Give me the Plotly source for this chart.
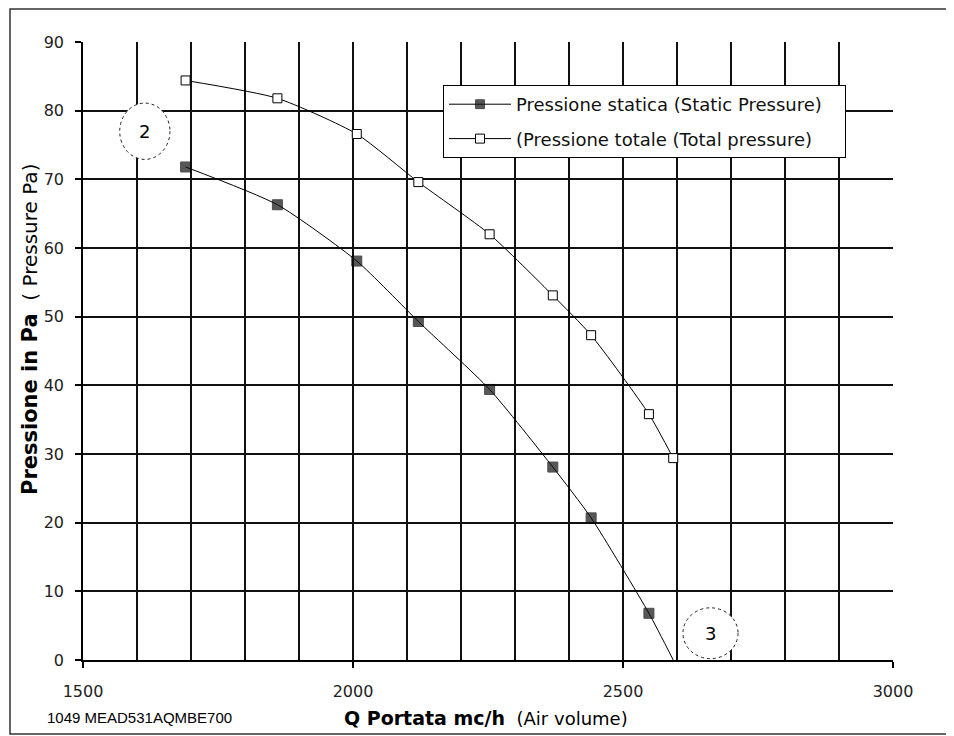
import plotly.graph_objects as go

# Data
flow_static = [1690, 1860, 2007, 2121, 2253, 2370, 2441, 2548, 2593]
p_static = [71.8, 66.3, 58.1, 49.3, 39.4, 28.1, 20.7, 6.8, 0.0]
static_marker_sizes = [10, 10, 10, 10, 10, 10, 10, 10, 0]

flow_total = [1690, 1860, 2007, 2121, 2253, 2370, 2441, 2548, 2593]
p_total = [84.4, 81.8, 76.6, 69.6, 62.0, 53.1, 47.3, 35.8, 29.4]

x_ticks = [1500, 2000, 2500, 3000]
x_grid = [1600, 1700, 1800, 1900, 2000, 2100, 2200, 2300, 2400, 2500, 2600, 2700, 2800, 2900]
y_ticks = [0, 10, 20, 30, 40, 50, 60, 70, 80, 90]
y_grid = [10, 20, 30, 40, 50, 60, 70, 80]

name_static = "Pressione statica (Static Pressure)"
name_total = "(Pressione totale (Total pressure)"

FONT = "DejaVu Sans"

# page offset of 8px (body margin): figure is 946x728 placed at (8,8)
pl, pr, pt, pb = 83, 893, 42, 660  # plot area in page pixels
def px(xp):
    return (xp - pl) / (pr - pl)
def py(yp):
    return (pb - yp) / (pb - pt)

fig = go.Figure()
fig.add_trace(go.Scatter(
    x=flow_static, y=p_static, name=name_static + "&nbsp;&nbsp;&nbsp;", mode="lines+markers",
    legendgroup="s",
    line=dict(color="black", width=1, shape="spline", smoothing=0.6),
    marker=dict(symbol="square", size=static_marker_sizes, color="#111",
                line=dict(color="black", width=1)),
))
fig.add_trace(go.Scatter(
    x=flow_total, y=p_total, name=name_total, mode="lines+markers",
    legendgroup="t",
    line=dict(color="black", width=1, shape="spline", smoothing=0.6),
    marker=dict(symbol="square", size=9, color="white",
                line=dict(color="black", width=1)),
))

fig.update_layout(
    width=946, height=728,
    margin=dict(l=75, r=61, t=34, b=76),
    paper_bgcolor="white", plot_bgcolor="white",
    font=dict(family=FONT, color="black", size=16),
    showlegend=True,
    legend=dict(x=px(443), y=py(85), xanchor="left", yanchor="top",
                bgcolor="white", bordercolor="black", borderwidth=1,
                font=dict(family=FONT, size=18, color="#111"),
                itemwidth=62, tracegroupgap=8),
    xaxis=dict(
        range=[1500, 3000], tickvals=x_ticks, ticktext=[str(v) for v in x_ticks],
        showgrid=False, zeroline=False, showline=True, linecolor="black", linewidth=1.5,
        ticks="outside", ticklen=6, tickcolor="black", tickwidth=1.5,
        ticklabelstandoff=10,
        tickfont=dict(family=FONT, size=16, color="#222"),
        minor=dict(tickvals=x_grid, showgrid=True, gridcolor="#111", gridwidth=1.5, ticks=""),
    ),
    yaxis=dict(
        range=[0, 90], tickvals=y_ticks, ticktext=[str(v) for v in y_ticks],
        showgrid=False, zeroline=False, showline=True, linecolor="black", linewidth=1.5,
        ticks="outside", ticklen=6, tickcolor="black", tickwidth=1.5,
        ticklabelstandoff=8,
        tickfont=dict(family=FONT, size=16, color="#222"),
        minor=dict(tickvals=y_grid, showgrid=True, gridcolor="#111", gridwidth=1.5, ticks=""),
    ),
    shapes=[
        dict(type="rect", xref="paper", yref="paper", x0=px(10), x1=px(952), y0=py(734), y1=py(9),
             line=dict(color="#333", width=1.5), layer="below"),
        dict(type="circle", xref="x", yref="y", x0=1568, x1=1661, y0=72.9, y1=81.1,
             line=dict(color="#222", width=1, dash="dot"), fillcolor="white", layer="above"),
        dict(type="circle", xref="x", yref="y", x0=2611, x1=2713, y0=0.2, y1=7.6,
             line=dict(color="#222", width=1, dash="dot"), fillcolor="white", layer="above"),
    ],
)

fig.add_annotation(x=1614.5, y=77.0, xref="x", yref="y", text="2", showarrow=False,
                   font=dict(family=FONT, size=18, color="black"))
fig.add_annotation(x=2662, y=3.9, xref="x", yref="y", text="3", showarrow=False,
                   font=dict(family=FONT, size=18, color="black"))
fig.add_annotation(x=px(486), y=py(718), xref="paper", yref="paper", showarrow=False,
                   xanchor="center", yanchor="middle",
                   text="<b><span style='font-size:19px'>Q Portata mc/h</span></b>  (Air volume)",
                   font=dict(family=FONT, size=18, color="black"))
fig.add_annotation(x=px(30), y=py(330), xref="paper", yref="paper", showarrow=False,
                   xanchor="center", yanchor="middle",
                   text="<b><span style='font-size:21px'>Pressione in Pa</span></b>  ( Pressure Pa)",
                   textangle=-90,
                   font=dict(family=FONT, size=20, color="black"))
fig.add_annotation(x=px(45), y=py(717), xref="paper", yref="paper", showarrow=False,
                   xanchor="left", yanchor="middle", text="1049 MEAD531AQMBE700",
                   font=dict(family="Liberation Sans", size=15, color="black"))

fig.write_html("out.html")
